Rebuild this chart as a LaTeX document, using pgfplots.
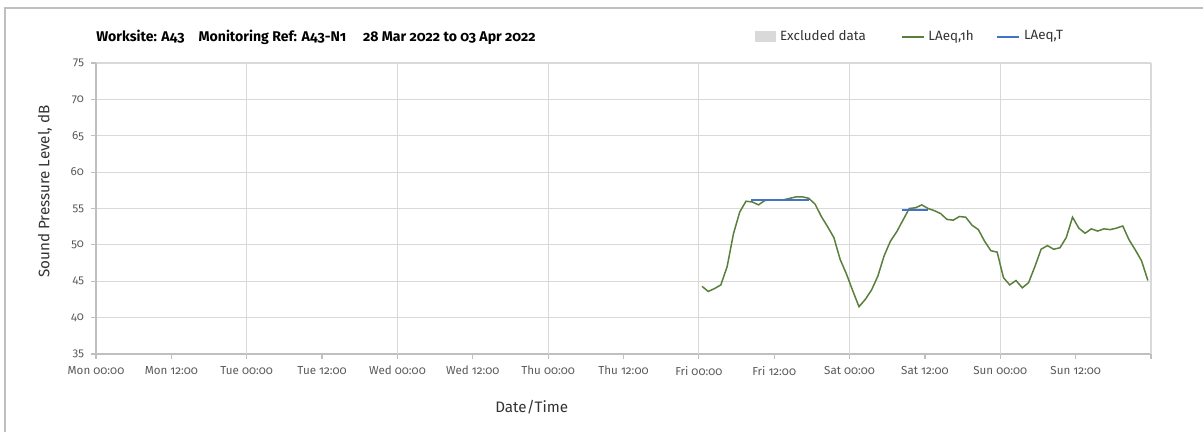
\documentclass[border=0pt]{standalone}
\usepackage{fontspec}
\setmainfont{Fira Sans}[Numbers=OldStyle]
\usepackage{pgfplots}
\pgfplotsset{compat=1.18}
\definecolor{gridc}{HTML}{D9D9D9}
\definecolor{axc}{HTML}{BFBFBF}
\definecolor{lgreen}{HTML}{5A7F3C}
\definecolor{lblue}{HTML}{4472C4}
\definecolor{txt}{HTML}{595959}
\definecolor{excl}{HTML}{D9D9D9}

\begin{document}
\begin{tikzpicture}
\useasboundingbox (0,0) rectangle (601.5pt,216pt);
\draw[axc,line width=0.6pt] (2.5pt,-1pt) -- (2.5pt,212pt) -- (603pt,212pt);
\node[anchor=west,font=\fontsize{7.05}{8}\selectfont\bfseries,inner sep=0pt] at (48pt,197.5pt)
  {Worksite: A43\hspace{7pt}Monitoring Ref: A43-N1\hspace{8.5pt}28 Mar 2022 to 03 Apr 2022};
\begin{axis}[
    scale only axis,
    width=527.5pt, height=145.5pt,
    at={(48pt,39pt)}, anchor=south west,
    xmin=0, xmax=168,
    ymin=35, ymax=75,
    xtick={0,12,...,168},
    xticklabels={Mon 00:00,Mon 12:00,Tue 00:00,Tue 12:00,Wed 00:00,Wed 12:00,Thu 00:00,Thu 12:00,Fri 00:00,Fri 12:00,Sat 00:00,Sat 12:00,Sun 00:00,Sun 12:00,{}},
    ytick={35,40,...,75},
    yticklabels={35,40,45,50,55,60,65,70,75},
    extra x ticks={24,48,72,96,120,144,168},
    extra x tick labels={},
    extra x tick style={xmajorgrids=true, major tick length=0pt},
    ymajorgrids=true,
    grid style={gridc, line width=0.6pt},
    axis x line*=bottom,
    axis y line*=left,
    axis line style={axc, line width=0.6pt},
    tick style={axc, line width=0.6pt},
    major tick length=2.5pt,
    tick align=outside,
    ticklabel style={font=\fontsize{5.8}{7}\selectfont, text=txt},
    xlabel={Date/Time},
    ylabel={Sound Pressure Level, dB},
    label style={font=\fontsize{7.6}{9}\selectfont, text=black!80},
    xlabel style={at={(axis description cs:0.413,-0.182)}, anchor=center},
    ylabel style={at={(axis description cs:-0.0483,0.558)}, anchor=center},
    legend style={draw=none, fill=none, legend columns=3, font=\fontsize{6.7}{8}\selectfont,
      text=black!80, at={(axis description cs:0.6245,1.09)}, anchor=west,
      /tikz/column 2/.style={column sep=15.5pt},
      /tikz/column 4/.style={column sep=9pt},
      inner sep=0pt, row sep=0pt},
    legend cell align=left,
    legend image code/.code={\draw[#1] (0pt,0pt) -- (11pt,0pt);},
]
\addlegendimage{legend image code/.code={\fill[excl] (0pt,-2.5pt) rectangle (10pt,2.5pt);}}
\addlegendentry{Excluded data}
\addplot[lgreen, line width=0.75pt] coordinates {
 (96.5,44.3) (97.5,43.6) (98.5,44.0) (99.5,44.5) (100.5,47.0) (101.5,51.5)
 (102.5,54.5) (103.5,56.0) (104.5,55.9) (105.5,55.5) (106.5,56.1) (107.5,56.2)
 (108.5,56.2) (109.5,56.2) (110.5,56.4) (111.5,56.6) (112.5,56.6) (113.5,56.4)
 (114.5,55.6) (115.5,53.9) (116.5,52.5) (117.5,51.0) (118.5,48.0) (119.5,46.0)
 (120.5,43.7) (121.5,41.5) (122.5,42.5) (123.5,43.8) (124.5,45.7) (125.5,48.5)
 (126.5,50.5) (127.5,51.8) (128.5,53.4) (129.5,55.0) (130.5,55.1) (131.5,55.5)
 (132.5,55.0) (133.5,54.7) (134.5,54.3) (135.5,53.5) (136.5,53.4) (137.5,53.9)
 (138.5,53.8) (139.5,52.7) (140.5,52.1) (141.5,50.5) (142.5,49.2) (143.5,49.0)
 (144.5,45.5) (145.5,44.5) (146.5,45.1) (147.5,44.1) (148.5,44.8) (149.5,47.0)
 (150.5,49.4) (151.5,49.9) (152.5,49.4) (153.5,49.6) (154.5,51.0) (155.5,53.8)
 (156.5,52.3) (157.5,51.6) (158.5,52.2) (159.5,51.9) (160.5,52.2) (161.5,52.1)
 (162.5,52.3) (163.5,52.6) (164.5,50.7) (165.5,49.3) (166.5,47.8) (167.5,45.1)
};
\addlegendentry{LAeq,1h}
\addplot[lblue, line width=1.2pt] coordinates {(104.3,56.2) (113.6,56.2)};
\addlegendentry{LAeq,T}
\addplot[lblue, line width=1.2pt, forget plot] coordinates {(128.3,54.8) (132.5,54.8)};
\end{axis}
\end{tikzpicture}
\end{document}
